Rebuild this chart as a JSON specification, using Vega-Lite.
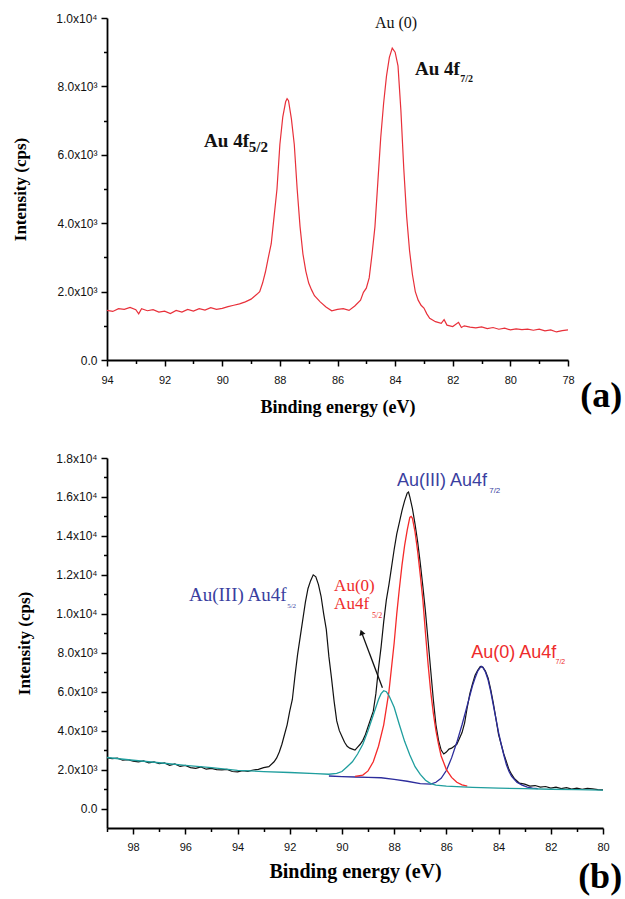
{
  "$schema": "https://vega.github.io/schema/vega-lite/v6.json",
  "padding": {"left": 11, "top": 12, "right": 0, "bottom": 4},
  "spacing": 36,
  "config": {
    "view": {"stroke": null},
    "axis": {
      "grid": false,
      "domainColor": "#000",
      "domainWidth": 1.8,
      "tickColor": "#000",
      "tickWidth": 1.5,
      "labelFont": "Liberation Sans",
      "labelColor": "#111",
      "titleFont": "Liberation Serif",
      "titleFontWeight": "bold",
      "titleColor": "#000",
      "labelOverlap": false,
      "labelFlush": false
    }
  },
  "datasets": {
    "top": [
      {"E":94.0,"I":1450},{"E":93.8,"I":1420},{"E":93.6,"I":1500},{"E":93.4,"I":1480},{"E":93.2,"I":1540},{"E":93.0,"I":1470},{"E":92.9,"I":1350},{"E":92.8,"I":1500},{"E":92.6,"I":1440},{"E":92.4,"I":1470},{"E":92.2,"I":1400},{"E":92.0,"I":1430},{"E":91.8,"I":1360},{"E":91.6,"I":1450},{"E":91.4,"I":1400},{"E":91.2,"I":1480},{"E":91.0,"I":1430},{"E":90.8,"I":1500},{"E":90.6,"I":1460},{"E":90.4,"I":1530},{"E":90.2,"I":1480},{"E":90.0,"I":1510},{"E":89.8,"I":1560},{"E":89.6,"I":1600},{"E":89.4,"I":1640},{"E":89.2,"I":1700},{"E":89.0,"I":1780},{"E":88.9,"I":1850},{"E":88.8,"I":1920},{"E":88.7,"I":2000},{"E":88.6,"I":2250},{"E":88.5,"I":2580},{"E":88.4,"I":3000},{"E":88.3,"I":3400},{"E":88.2,"I":4200},{"E":88.1,"I":5000},{"E":88.0,"I":6300},{"E":87.9,"I":7100},{"E":87.8,"I":7550},{"E":87.75,"I":7640},{"E":87.7,"I":7580},{"E":87.6,"I":7050},{"E":87.5,"I":6300},{"E":87.4,"I":5000},{"E":87.3,"I":3900},{"E":87.2,"I":3100},{"E":87.1,"I":2600},{"E":87.0,"I":2250},{"E":86.9,"I":2050},{"E":86.8,"I":1880},{"E":86.6,"I":1700},{"E":86.4,"I":1550},{"E":86.2,"I":1440},{"E":86.0,"I":1480},{"E":85.8,"I":1500},{"E":85.6,"I":1450},{"E":85.4,"I":1580},{"E":85.2,"I":1750},{"E":85.1,"I":1980},{"E":85.0,"I":2100},{"E":84.9,"I":2400},{"E":84.8,"I":3100},{"E":84.7,"I":3900},{"E":84.6,"I":5200},{"E":84.5,"I":6500},{"E":84.4,"I":7500},{"E":84.3,"I":8300},{"E":84.2,"I":8850},{"E":84.1,"I":9120},{"E":84.0,"I":9000},{"E":83.9,"I":8600},{"E":83.8,"I":7300},{"E":83.7,"I":5600},{"E":83.6,"I":4200},{"E":83.5,"I":3200},{"E":83.4,"I":2500},{"E":83.3,"I":2000},{"E":83.2,"I":1750},{"E":83.1,"I":1600},{"E":83.0,"I":1520},{"E":82.9,"I":1350},{"E":82.8,"I":1220},{"E":82.6,"I":1120},{"E":82.4,"I":1070},{"E":82.3,"I":1180},{"E":82.2,"I":1020},{"E":82.0,"I":980},{"E":81.8,"I":1100},{"E":81.7,"I":950},{"E":81.6,"I":1000},{"E":81.4,"I":960},{"E":81.2,"I":940},{"E":81.0,"I":970},{"E":80.8,"I":920},{"E":80.6,"I":950},{"E":80.4,"I":900},{"E":80.2,"I":930},{"E":80.0,"I":880},{"E":79.8,"I":910},{"E":79.6,"I":890},{"E":79.4,"I":900},{"E":79.2,"I":870},{"E":79.0,"I":900},{"E":78.8,"I":850},{"E":78.6,"I":880},{"E":78.4,"I":820},{"E":78.2,"I":860},{"E":78.0,"I":880}
    ],
    "black": [
      {"E":99.0,"I":2600},{"E":98.8,"I":2560},{"E":98.6,"I":2590},{"E":98.4,"I":2480},{"E":98.2,"I":2510},{"E":98.0,"I":2430},{"E":97.8,"I":2400},{"E":97.6,"I":2450},{"E":97.4,"I":2350},{"E":97.2,"I":2390},{"E":97.0,"I":2300},{"E":96.8,"I":2340},{"E":96.6,"I":2220},{"E":96.4,"I":2290},{"E":96.2,"I":2160},{"E":96.0,"I":2210},{"E":95.8,"I":2100},{"E":95.6,"I":2060},{"E":95.4,"I":2140},{"E":95.2,"I":2020},{"E":95.0,"I":2060},{"E":94.8,"I":2000},{"E":94.6,"I":1980},{"E":94.4,"I":2010},{"E":94.2,"I":1900},{"E":94.0,"I":1880},{"E":93.8,"I":1950},{"E":93.6,"I":1910},{"E":93.4,"I":1980},{"E":93.2,"I":2010},{"E":93.0,"I":2100},{"E":92.8,"I":2150},{"E":92.6,"I":2400},{"E":92.5,"I":2600},{"E":92.4,"I":2900},{"E":92.3,"I":3300},{"E":92.2,"I":3800},{"E":92.1,"I":4300},{"E":92.0,"I":5000},{"E":91.9,"I":5600},{"E":91.8,"I":6800},{"E":91.7,"I":7900},{"E":91.6,"I":8800},{"E":91.5,"I":9700},{"E":91.4,"I":10600},{"E":91.3,"I":11300},{"E":91.2,"I":11700},{"E":91.1,"I":12000},{"E":91.0,"I":11900},{"E":90.9,"I":11500},{"E":90.8,"I":10900},{"E":90.7,"I":10000},{"E":90.6,"I":9200},{"E":90.5,"I":7800},{"E":90.4,"I":6700},{"E":90.3,"I":5500},{"E":90.2,"I":4500},{"E":90.1,"I":4000},{"E":90.0,"I":3700},{"E":89.9,"I":3400},{"E":89.8,"I":3200},{"E":89.7,"I":3100},{"E":89.6,"I":3050},{"E":89.5,"I":3000},{"E":89.4,"I":3150},{"E":89.3,"I":3300},{"E":89.2,"I":3500},{"E":89.1,"I":3800},{"E":89.0,"I":4200},{"E":88.9,"I":4600},{"E":88.8,"I":5000},{"E":88.7,"I":5900},{"E":88.6,"I":7200},{"E":88.5,"I":8300},{"E":88.4,"I":9600},{"E":88.3,"I":10700},{"E":88.2,"I":11500},{"E":88.1,"I":12400},{"E":88.0,"I":13300},{"E":87.9,"I":14100},{"E":87.8,"I":14700},{"E":87.7,"I":15300},{"E":87.6,"I":15800},{"E":87.5,"I":16200},{"E":87.45,"I":16250},{"E":87.4,"I":16000},{"E":87.3,"I":15400},{"E":87.2,"I":14600},{"E":87.1,"I":13700},{"E":87.0,"I":12600},{"E":86.9,"I":11400},{"E":86.8,"I":10100},{"E":86.7,"I":8600},{"E":86.6,"I":7100},{"E":86.5,"I":5600},{"E":86.4,"I":4300},{"E":86.3,"I":3500},{"E":86.2,"I":3000},{"E":86.1,"I":2800},{"E":86.0,"I":2900},{"E":85.9,"I":3050},{"E":85.8,"I":3100},{"E":85.7,"I":3200},{"E":85.6,"I":3300},{"E":85.5,"I":3600},{"E":85.4,"I":3900},{"E":85.3,"I":4400},{"E":85.2,"I":5200},{"E":85.1,"I":5900},{"E":85.0,"I":6400},{"E":84.9,"I":6850},{"E":84.8,"I":7100},{"E":84.7,"I":7300},{"E":84.6,"I":7250},{"E":84.5,"I":7050},{"E":84.4,"I":6700},{"E":84.3,"I":6100},{"E":84.2,"I":5400},{"E":84.1,"I":4600},{"E":84.0,"I":3800},{"E":83.9,"I":3300},{"E":83.8,"I":2800},{"E":83.7,"I":2400},{"E":83.6,"I":2000},{"E":83.5,"I":1750},{"E":83.4,"I":1550},{"E":83.2,"I":1300},{"E":83.0,"I":1250},{"E":82.8,"I":1150},{"E":82.6,"I":1180},{"E":82.4,"I":1100},{"E":82.2,"I":1130},{"E":82.0,"I":1050},{"E":81.8,"I":1100},{"E":81.6,"I":1020},{"E":81.4,"I":1070},{"E":81.2,"I":1000},{"E":81.0,"I":1050},{"E":80.8,"I":990},{"E":80.6,"I":1030},{"E":80.4,"I":1010},{"E":80.2,"I":970},{"E":80.0,"I":960}
    ],
    "blue": [
      {"E":90.5,"I":1670},{"E":90.0,"I":1640},{"E":89.5,"I":1620},{"E":89.0,"I":1600},{"E":88.5,"I":1580},{"E":88.0,"I":1500},{"E":87.5,"I":1400},{"E":87.0,"I":1280},{"E":86.6,"I":1250},{"E":86.4,"I":1350},{"E":86.2,"I":1550},{"E":86.0,"I":1950},{"E":85.8,"I":2600},{"E":85.6,"I":3400},{"E":85.4,"I":4300},{"E":85.2,"I":5300},{"E":85.0,"I":6300},{"E":84.9,"I":6700},{"E":84.8,"I":7050},{"E":84.7,"I":7250},{"E":84.65,"I":7300},{"E":84.6,"I":7250},{"E":84.5,"I":7000},{"E":84.4,"I":6600},{"E":84.3,"I":6000},{"E":84.2,"I":5300},{"E":84.1,"I":4600},{"E":84.0,"I":3900},{"E":83.9,"I":3300},{"E":83.8,"I":2750},{"E":83.7,"I":2250},{"E":83.6,"I":1900},{"E":83.5,"I":1650},{"E":83.3,"I":1350},{"E":83.1,"I":1200},{"E":82.9,"I":1100},{"E":82.7,"I":1050},{"E":82.5,"I":1020}
    ],
    "red": [
      {"E":89.5,"I":1650},{"E":89.2,"I":1720},{"E":89.0,"I":1930},{"E":88.8,"I":2400},{"E":88.6,"I":3200},{"E":88.4,"I":4300},{"E":88.2,"I":6000},{"E":88.0,"I":8500},{"E":87.9,"I":10000},{"E":87.8,"I":11300},{"E":87.7,"I":12500},{"E":87.6,"I":13500},{"E":87.5,"I":14300},{"E":87.4,"I":14950},{"E":87.35,"I":15000},{"E":87.3,"I":14900},{"E":87.2,"I":14200},{"E":87.1,"I":13200},{"E":87.0,"I":12000},{"E":86.9,"I":10700},{"E":86.8,"I":9000},{"E":86.7,"I":7400},{"E":86.6,"I":6000},{"E":86.5,"I":4900},{"E":86.4,"I":4000},{"E":86.3,"I":3300},{"E":86.2,"I":2700},{"E":86.0,"I":2000},{"E":85.8,"I":1600},{"E":85.6,"I":1350},{"E":85.4,"I":1220},{"E":85.2,"I":1150}
    ],
    "teal": [
      {"E":99.0,"I":2620},{"E":98.0,"I":2480},{"E":97.0,"I":2350},{"E":96.0,"I":2220},{"E":95.0,"I":2100},{"E":94.0,"I":1960},{"E":93.0,"I":1900},{"E":92.0,"I":1850},{"E":91.0,"I":1790},{"E":90.5,"I":1760},{"E":90.2,"I":1800},{"E":90.0,"I":1900},{"E":89.8,"I":2150},{"E":89.6,"I":2400},{"E":89.4,"I":2800},{"E":89.2,"I":3300},{"E":89.0,"I":4000},{"E":88.8,"I":4800},{"E":88.6,"I":5600},{"E":88.5,"I":5900},{"E":88.4,"I":6050},{"E":88.3,"I":6000},{"E":88.2,"I":5800},{"E":88.0,"I":5200},{"E":87.8,"I":4300},{"E":87.6,"I":3450},{"E":87.4,"I":2750},{"E":87.2,"I":2150},{"E":87.0,"I":1750},{"E":86.8,"I":1450},{"E":86.6,"I":1280},{"E":86.4,"I":1200},{"E":86.0,"I":1150},{"E":85.0,"I":1090},{"E":84.0,"I":1050},{"E":83.0,"I":1020},{"E":82.0,"I":990},{"E":81.0,"I":970},{"E":80.0,"I":950}
    ]
  },
  "vconcat": [
    {
      "width": 461,
      "height": 342,
      "encoding": {
        "x": {
          "field": "E", "type": "quantitative",
          "scale": {"domain": [78, 94], "reverse": true, "nice": false, "zero": false},
          "axis": {
            "values": [94,93,92,91,90,89,88,87,86,85,84,83,82,81,80,79,78],
            "labelExpr": "datum.value % 2 == 0 ? datum.label : ''",
            "tickSize": {"condition": {"test": "datum.value % 2 == 0", "value": 6}, "value": 3.5},
            "labelFontSize": 11,
            "labelPadding": 8,
            "title": "Binding energy (eV)",
            "titleFontSize": 18,
            "titlePadding": 13
          }
        },
        "y": {
          "field": "I", "type": "quantitative",
          "scale": {"domain": [0, 10000], "nice": false, "zero": false},
          "axis": {
            "values": [0,1000,2000,3000,4000,5000,6000,7000,8000,9000,10000],
            "labelExpr": "datum.value % 2000 != 0 ? '' : datum.value == 0 ? '0.0' : datum.value < 10000 ? format(datum.value / 1000, '.1f') + 'x10³' : format(datum.value / 10000, '.1f') + 'x10⁴'",
            "tickSize": {"condition": {"test": "datum.value % 2000 == 0", "value": 6}, "value": 3.5},
            "labelFontSize": 12,
            "labelPadding": 4,
            "title": "Intensity (cps)",
            "titleFontSize": 17,
            "titlePadding": 26
          }
        }
      },
      "layer": [
        {"data": {"name": "top"}, "mark": {"type": "line", "color": "#e8303a", "strokeWidth": 1.2}},
        {"data": {"values": [{"E": 83.97, "I": 9854, "t": "Au (0)"}]},
         "mark": {"type": "text", "font": "Liberation Serif", "fontSize": 16, "color": "#111", "align": "center", "baseline": "middle"},
         "encoding": {"text": {"field": "t"}}},
        {"data": {"values": [{"E": 83.31, "I": 8509, "t": "Au 4f"}, {"E": 90.63, "I": 6418, "t": "Au 4f"}]},
         "mark": {"type": "text", "font": "Liberation Serif", "fontWeight": "bold", "fontSize": 19, "color": "#111", "align": "left", "baseline": "middle"},
         "encoding": {"text": {"field": "t"}}},
        {"data": {"values": [{"E": 81.74, "I": 8216, "t": "7/2"}]},
         "mark": {"type": "text", "font": "Liberation Serif", "fontWeight": "bold", "fontSize": 10, "color": "#111", "align": "left", "baseline": "middle"},
         "encoding": {"text": {"field": "t"}}},
        {"data": {"values": [{"E": 89.08, "I": 6228, "t": "5/2"}]},
         "mark": {"type": "text", "font": "Liberation Serif", "fontWeight": "bold", "fontSize": 15, "color": "#111", "align": "left", "baseline": "middle"},
         "encoding": {"text": {"field": "t"}}},
        {"data": {"values": [{"E": 76.85, "I": -1374, "t": "(a)"}]},
         "mark": {"type": "text", "font": "Liberation Serif", "fontWeight": "bold", "fontSize": 36, "color": "#000", "align": "center", "baseline": "alphabetic"},
         "encoding": {"text": {"field": "t"}}}
      ]
    },
    {
      "width": 496,
      "height": 370,
      "encoding": {
        "x": {
          "field": "E", "type": "quantitative",
          "scale": {"domain": [80, 99], "reverse": true, "nice": false, "zero": false},
          "axis": {
            "values": [99,98,97,96,95,94,93,92,91,90,89,88,87,86,85,84,83,82,81,80],
            "labelExpr": "datum.value % 2 == 0 ? datum.label : ''",
            "tickSize": {"condition": {"test": "datum.value % 2 == 0", "value": 6}, "value": 3.5},
            "labelFontSize": 11,
            "labelPadding": 7,
            "title": "Binding energy (eV)",
            "titleFontSize": 20,
            "titlePadding": 9
          }
        },
        "y": {
          "field": "I", "type": "quantitative",
          "scale": {"domain": [-1000, 18000], "nice": false, "zero": false},
          "axis": {
            "values": [0,1000,2000,3000,4000,5000,6000,7000,8000,9000,10000,11000,12000,13000,14000,15000,16000,17000,18000],
            "labelExpr": "datum.value % 2000 != 0 ? '' : datum.value == 0 ? '0.0' : datum.value < 10000 ? format(datum.value / 1000, '.1f') + 'x10³' : format(datum.value / 10000, '.1f') + 'x10⁴'",
            "tickSize": {"condition": {"test": "datum.value % 2000 == 0", "value": 6}, "value": 3.5},
            "labelFontSize": 12,
            "labelPadding": 4,
            "title": "Intensity (cps)",
            "titleFontSize": 17,
            "titlePadding": 22
          }
        }
      },
      "layer": [
        {"data": {"name": "black"}, "mark": {"type": "line", "color": "#111111", "strokeWidth": 1.2}},
        {"data": {"name": "blue"}, "mark": {"type": "line", "color": "#2c2c9c", "strokeWidth": 1.3}},
        {"data": {"name": "red"}, "mark": {"type": "line", "color": "#f52a2a", "strokeWidth": 1.3}},
        {"data": {"name": "teal"}, "mark": {"type": "line", "color": "#1f9e9e", "strokeWidth": 1.3}},
        {"data": {"values": [{"E": 88.45, "I": 6206, "E2": 89.25, "I2": 9050}]},
         "mark": {"type": "rule", "color": "#111", "strokeWidth": 1.3},
         "encoding": {"x2": {"field": "E2"}, "y2": {"field": "I2"}}},
        {"data": {"values": [{"E": 89.25, "I": 9050}]},
         "mark": {"type": "point", "shape": "triangle-up", "filled": true, "color": "#111", "size": 40, "angle": 340, "opacity": 1}},
        {"data": {"values": [{"E": 95.86, "I": 10942, "t": "Au(III) Au4f"}]},
         "mark": {"type": "text", "font": "Liberation Serif", "fontSize": 19, "color": "#3a3fa0", "align": "left", "baseline": "middle"},
         "encoding": {"text": {"field": "t"}}},
        {"data": {"values": [{"E": 92.10, "I": 10402, "t": "5/2"}]},
         "mark": {"type": "text", "font": "Liberation Serif", "fontSize": 7, "color": "#3a3fa0", "align": "left", "baseline": "middle"},
         "encoding": {"text": {"field": "t"}}},
        {"data": {"values": [{"E": 87.89, "I": 16822, "t": "Au(III) Au4f"}]},
         "mark": {"type": "text", "font": "Liberation Sans", "fontSize": 18, "color": "#3a3fa0", "align": "left", "baseline": "middle"},
         "encoding": {"text": {"field": "t"}}},
        {"data": {"values": [{"E": 84.36, "I": 16309, "t": "7/2"}]},
         "mark": {"type": "text", "font": "Liberation Sans", "fontSize": 8, "color": "#3a3fa0", "align": "left", "baseline": "middle"},
         "encoding": {"text": {"field": "t"}}},
        {"data": {"values": [{"E": 90.30, "I": 11429, "t": "Au(0)"}, {"E": 90.30, "I": 10505, "t": "Au4f"}]},
         "mark": {"type": "text", "font": "Liberation Serif", "fontSize": 17, "color": "#ee2b2b", "align": "left", "baseline": "middle"},
         "encoding": {"text": {"field": "t"}}},
        {"data": {"values": [{"E": 88.85, "I": 9889, "t": "5/2"}]},
         "mark": {"type": "text", "font": "Liberation Serif", "fontSize": 8, "color": "#ee2b2b", "align": "left", "baseline": "middle"},
         "encoding": {"text": {"field": "t"}}},
        {"data": {"values": [{"E": 85.05, "I": 7988, "t": "Au(0) Au4f"}]},
         "mark": {"type": "text", "font": "Liberation Sans", "fontSize": 18, "color": "#ee2b2b", "align": "left", "baseline": "middle"},
         "encoding": {"text": {"field": "t"}}},
        {"data": {"values": [{"E": 81.82, "I": 7526, "t": "7/2"}]},
         "mark": {"type": "text", "font": "Liberation Sans", "fontSize": 7, "color": "#ee2b2b", "align": "left", "baseline": "middle"},
         "encoding": {"text": {"field": "t"}}},
        {"data": {"values": [{"E": 80.11, "I": -4082, "t": "(b)"}]},
         "mark": {"type": "text", "font": "Liberation Serif", "fontWeight": "bold", "fontSize": 36, "color": "#000", "align": "center", "baseline": "alphabetic"},
         "encoding": {"text": {"field": "t"}}}
      ]
    }
  ]
}
